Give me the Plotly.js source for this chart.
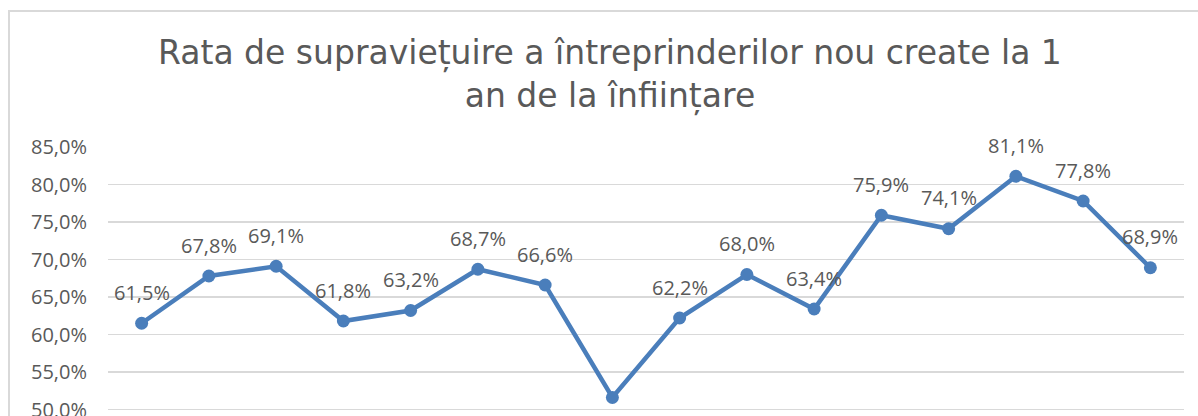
<!DOCTYPE html>
<html>
<head>
<meta charset="utf-8">
<script src="https://cdn.plot.ly/plotly-3.0.1.min.js"></script>
<style>
  html, body { margin: 0; padding: 0; width: 1198px; height: 416px; overflow: hidden; background: #fff; }
  #frame { position: absolute; left: 8px; top: 10px; border-top: 2px solid #d9d9d9; border-left: 2px solid #d9d9d9; }
  #chart { width: 1188px; height: 480px; }
</style>
</head>
<body>
<div id="frame"><div id="chart"></div></div>
<script>
const categories = ['2004','2005','2006','2007','2008','2009','2010','2011','2012','2013','2014','2015','2016','2017','2018','2019'];
const survivalRate = [61.5, 67.8, 69.1, 61.8, 63.2, 68.7, 66.6, 51.6, 62.2, 68.0, 63.4, 75.9, 74.1, 81.1, 77.8, 68.9];
const labelText = survivalRate.map(v => v.toFixed(1).replace('.', ',') + '%');

const trace = {
  x: categories,
  y: survivalRate,
  type: 'scatter',
  mode: 'lines+markers',
  line: { color: '#4a7ebb', width: 4.5 },
  marker: { color: '#4a7ebb', size: 13 },
  hoverinfo: 'skip'
};

const annotations = categories.map((c, i) => ({
  x: i, y: survivalRate[i], xref: 'x', yref: 'y',
  text: labelText[i], showarrow: false,
  yshift: i === 7 ? -34 : 31,
  font: { family: 'Open Sans, sans-serif', size: 20, color: '#595959' }
}));

const layout = {
  width: 1188, height: 480,
  margin: { l: 98, r: 14, t: 135, b: 45 },
  paper_bgcolor: '#ffffff', plot_bgcolor: '#ffffff',
  separators: ', ',
  showlegend: false,
  title: {
    text: 'Rata de supraviețuire a întreprinderilor nou create la 1<br>an de la înființare',
    font: { family: 'DejaVu Sans, sans-serif', size: 33, color: '#595959' },
    x: 0.505, xanchor: 'center',
    yref: 'container', y: 1 - 52/480, yanchor: 'top'
  },
  xaxis: {
    type: 'category',
    range: [-0.5, 15.5],
    showgrid: false, zeroline: false, showline: false,
    showticklabels: false
  },
  yaxis: {
    range: [45, 85], dtick: 5, tick0: 0,
    tickformat: '.1f', ticksuffix: '%',
    showgrid: true, gridcolor: '#d9d9d9', gridwidth: 1.3,
    zeroline: false, showline: false,
    ticklabelstandoff: 20,
    tickfont: { family: 'Open Sans, sans-serif', size: 20, color: '#595959' }
  },
  annotations: annotations
};

Plotly.newPlot('chart', [trace], layout, { displayModeBar: false, staticPlot: true });
</script>
</body>
</html>
